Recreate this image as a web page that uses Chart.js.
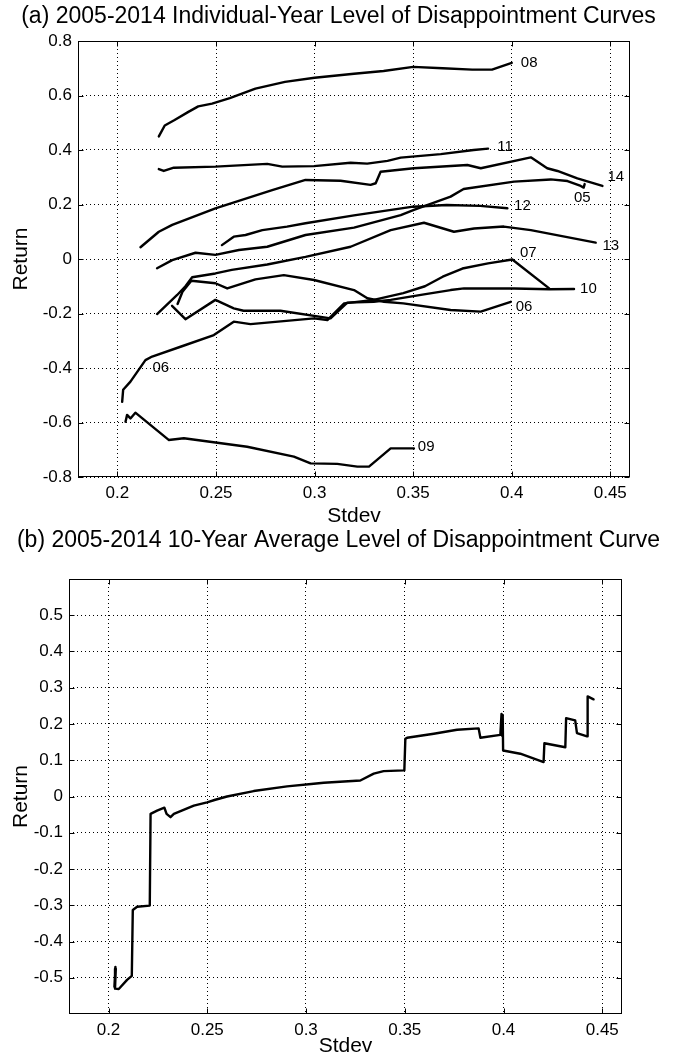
<!DOCTYPE html>
<html>
<head>
<meta charset="utf-8">
<script src="https://cdn.jsdelivr.net/npm/chart.js@4.4.1/dist/chart.umd.min.js"></script>
<style>
  html, body { margin: 0; padding: 0; background: #fff; overflow: hidden; }
  #wrapA { position: absolute; left: 0; top: 0; width: 677px; height: 530px; }
  #wrapB { position: absolute; left: 0; top: 528px; width: 677px; height: 534px; }
</style>
</head>
<body>
<div id="wrapA"><canvas id="chartA" width="677" height="530"></canvas></div>
<div id="wrapB"><canvas id="chartB" width="677" height="534"></canvas></div>
<script>
// tick labels
const stdevTicks = [0.2, 0.25, 0.3, 0.35, 0.4, 0.45];
const returnTicksA = [-0.8, -0.6, -0.4, -0.2, 0, 0.2, 0.4, 0.6, 0.8];
const returnTicksB = [-0.5, -0.4, -0.3, -0.2, -0.1, 0, 0.1, 0.2, 0.3, 0.4, 0.5];

// (a) individual-year curves, stdev / return
const sd08 = [0.221, 0.224, 0.229, 0.236, 0.241, 0.248, 0.257, 0.27, 0.285, 0.3, 0.32, 0.335, 0.35, 0.365, 0.38, 0.39, 0.4];
const ret08 = [0.45, 0.49, 0.51, 0.54, 0.56, 0.57, 0.59, 0.625, 0.65, 0.665, 0.68, 0.69, 0.705, 0.70, 0.695, 0.695, 0.72];

const sd11 = [0.221, 0.2235, 0.2286, 0.2497, 0.276, 0.2836, 0.2997, 0.3183, 0.3267, 0.337, 0.3437, 0.364, 0.3807, 0.388];
const ret11 = [0.330, 0.323, 0.335, 0.339, 0.349, 0.339, 0.341, 0.353, 0.350, 0.360, 0.372, 0.385, 0.40, 0.405];

const sd14 = [0.2117, 0.221, 0.2278, 0.2497, 0.2785, 0.2954, 0.3132, 0.3284, 0.331, 0.3335, 0.3503, 0.3775, 0.3843, 0.4097, 0.418, 0.4232, 0.4333, 0.446];
const ret14 = [0.043, 0.10, 0.125, 0.186, 0.253, 0.29, 0.287, 0.272, 0.278, 0.32, 0.333, 0.345, 0.333, 0.373, 0.333, 0.323, 0.296, 0.268];

const sd05 = [0.2201, 0.2278, 0.2396, 0.2497, 0.2616, 0.276, 0.2954, 0.32, 0.3437, 0.3504, 0.369, 0.3756, 0.4012, 0.4198, 0.4283, 0.435, 0.4365, 0.437];
const ret05 = [-0.034, -0.004, 0.023, 0.015, 0.033, 0.045, 0.088, 0.115, 0.161, 0.18, 0.229, 0.257, 0.284, 0.292, 0.286, 0.268, 0.262, 0.275];

const sd12 = [0.253, 0.259, 0.265, 0.2735, 0.286, 0.2954, 0.32, 0.35, 0.367, 0.384, 0.3978];
const ret12 = [0.051, 0.082, 0.088, 0.106, 0.119, 0.131, 0.16, 0.192, 0.198, 0.195, 0.186];

const sd13 = [0.2201, 0.2303, 0.2345, 0.2379, 0.2497, 0.258, 0.276, 0.2954, 0.3183, 0.3386, 0.3555, 0.3707, 0.3809, 0.396, 0.4097, 0.4426];
const ret13 = [-0.202, -0.132, -0.10, -0.067, -0.053, -0.04, -0.02, 0.008, 0.045, 0.106, 0.133, 0.10, 0.112, 0.119, 0.106, 0.06];

const sd07 = [0.2024, 0.2029, 0.2066, 0.2142, 0.2176, 0.232, 0.2489, 0.259, 0.2675, 0.2997, 0.3065, 0.315, 0.33, 0.345, 0.356, 0.365, 0.375, 0.388, 0.4003, 0.419];
const ret07 = [-0.524, -0.48, -0.45, -0.371, -0.358, -0.322, -0.279, -0.23, -0.239, -0.218, -0.224, -0.163, -0.15, -0.125, -0.10, -0.065, -0.035, -0.016, -0.002, -0.108];

const sd06 = [0.2305, 0.233, 0.2375, 0.2497, 0.2557, 0.27, 0.2844, 0.2997, 0.32, 0.3268, 0.3352, 0.345, 0.369, 0.3843, 0.3995];
const ret06 = [-0.165, -0.12, -0.08, -0.089, -0.108, -0.075, -0.059, -0.077, -0.114, -0.144, -0.157, -0.163, -0.187, -0.193, -0.157];

const sd10 = [0.2277, 0.2345, 0.2497, 0.259, 0.264, 0.2827, 0.3081, 0.3166, 0.33, 0.3386, 0.3555, 0.369, 0.3758, 0.4012, 0.419, 0.4316];
const ret10 = [-0.172, -0.221, -0.15, -0.181, -0.19, -0.19, -0.218, -0.16, -0.157, -0.15, -0.13, -0.114, -0.108, -0.108, -0.111, -0.11];

const sd09 = [0.2041, 0.2049, 0.2066, 0.2091, 0.226, 0.2337, 0.2658, 0.2895, 0.298, 0.3115, 0.3217, 0.3276, 0.3386, 0.3504];
const ret09 = [-0.597, -0.572, -0.585, -0.564, -0.664, -0.658, -0.689, -0.725, -0.75, -0.752, -0.762, -0.762, -0.695, -0.695];

// (b) 10-year average curve
const sdAvg = [0.2035, 0.2030, 0.2037, 0.2033, 0.2052, 0.2094, 0.2118, 0.2123, 0.2145, 0.2209, 0.2213, 0.2246, 0.2283, 0.2294, 0.2314, 0.2331,
  0.2432, 0.2499, 0.2541, 0.26, 0.2735, 0.2904, 0.3039, 0.309, 0.3275, 0.3343, 0.3393, 0.3498, 0.3503, 0.3512, 0.3647, 0.3765, 0.3874,
  0.3883, 0.3984, 0.3990, 0.3993, 0.3996, 0.3998, 0.4085, 0.4203, 0.4207, 0.4313, 0.4317, 0.4363, 0.4372, 0.4423, 0.4426, 0.4456];
const retAvg = [-0.47, -0.525, -0.475, -0.53, -0.531, -0.506, -0.495, -0.313, -0.304, -0.301, -0.048, -0.039, -0.031, -0.048, -0.057, -0.048,
  -0.025, -0.016, -0.009, 0.0, 0.015, 0.028, 0.035, 0.038, 0.044, 0.063, 0.070, 0.072, 0.159, 0.162, 0.173, 0.184, 0.188,
  0.162, 0.170, 0.228, 0.168, 0.225, 0.127, 0.118, 0.095, 0.147, 0.136, 0.216, 0.210, 0.175, 0.166, 0.276, 0.268];

const FONT = "'Liberation Sans', Arial, sans-serif";
const fmt = v => String(Math.round(v * 100) / 100);

// MATLAB-ish look: heading, curve tags, closed box with inward ticks
const decor = {
  id: 'decor',
  afterDraw(chart, args, opts) {
    const { ctx, chartArea: a, scales: { x, y } } = chart;
    ctx.save();
    ctx.fillStyle = '#000';
    ctx.font = opts.titleSize + 'px ' + FONT;
    ctx.textAlign = 'center';
    ctx.textBaseline = 'middle';
    ctx.fillText(opts.title, chart.width / 2, opts.titleY);

    ctx.font = '15px ' + FONT;
    ctx.textAlign = 'left';
    (opts.tags || []).forEach(t => {
      ctx.fillText(t.text, x.getPixelForValue(t.x), y.getPixelForValue(t.y));
    });

    const L = Math.round(a.left) + 0.5, R = Math.round(a.right) - 0.5;
    const T = Math.round(a.top) + 0.5, B = Math.round(a.bottom) - 0.5;
    ctx.strokeStyle = '#000';
    ctx.lineWidth = 1;
    ctx.strokeRect(L, T, R - L, B - T);
    ctx.beginPath();
    x.ticks.forEach(t => {
      const p = Math.round(x.getPixelForValue(t.value)) + 0.5;
      ctx.moveTo(p, B); ctx.lineTo(p, B - 5);
      ctx.moveTo(p, T); ctx.lineTo(p, T + 5);
    });
    y.ticks.forEach(t => {
      const p = Math.round(y.getPixelForValue(t.value)) + 0.5;
      ctx.moveTo(L, p); ctx.lineTo(L + 5, p);
      ctx.moveTo(R, p); ctx.lineTo(R - 5, p);
    });
    ctx.stroke();
    ctx.restore();
  }
};

function panel(id, o) {
  return new Chart(document.getElementById(id), {
    type: 'scatter',
    data: {
      datasets: o.series.map(s => ({
        data: s[0].map((v, i) => ({ x: v, y: s[1][i] })),
        showLine: true,
        borderColor: '#000',
        borderWidth: 2.4,
        borderJoinStyle: 'round',
        borderCapStyle: 'round',
        pointRadius: 0
      }))
    },
    options: {
      responsive: false,
      animation: false,
      events: [],
      layout: { padding: { left: 0, right: o.padRight, top: o.padTop, bottom: 0 } },
      plugins: {
        legend: { display: false },
        tooltip: { enabled: false },
        title: { display: false },
        decor: { title: o.title, titleY: o.titleY, titleSize: 23, tags: o.tags }
      },
      scales: {
        x: {
          type: 'linear', min: 0.18, max: 0.46,
          afterBuildTicks: s => { s.ticks = stdevTicks.map(v => ({ value: v })); },
          afterFit: s => { s.height = o.xHeight; },
          grid: { color: '#000', lineWidth: 1, drawTicks: false },
          border: { display: false, dash: [1, 3] },
          ticks: { color: '#000', font: { family: FONT, size: 17 }, padding: 6, maxRotation: 0, autoSkip: false, callback: fmt },
          title: { display: true, text: 'Stdev', color: '#000', font: { family: FONT, size: 21 }, padding: { top: 0, bottom: o.xTitlePad } }
        },
        y: {
          type: 'linear', min: o.yMin, max: o.yMax,
          afterBuildTicks: s => { s.ticks = o.yTicks.map(v => ({ value: v })); },
          afterFit: s => { s.width = o.yWidth; },
          grid: { color: '#000', lineWidth: 1, drawTicks: false },
          border: { display: false, dash: [1, 3] },
          ticks: { color: '#000', font: { family: FONT, size: 17 }, padding: 6, autoSkip: false, callback: fmt },
          title: { display: true, text: 'Return', color: '#000', font: { family: FONT, size: 21 }, padding: { top: 9, bottom: 0 } }
        }
      }
    },
    plugins: [decor]
  });
}

panel('chartA', {
  title: '(a) 2005-2014 Individual-Year Level of Disappointment Curves',
  titleY: 17, padTop: 41, padRight: 47, yWidth: 78, xHeight: 53, xTitlePad: 1,
  yMin: -0.8, yMax: 0.8, yTicks: returnTicksA,
  series: [[sd08, ret08], [sd11, ret11], [sd14, ret14], [sd05, ret05], [sd12, ret12], [sd13, ret13],
           [sd07, ret07], [sd06, ret06], [sd10, ret10], [sd09, ret09]],
  tags: [
    { text: '08', x: 0.4046, y: 0.719 },
    { text: '11', x: 0.3927, y: 0.412 },
    { text: '14', x: 0.4486, y: 0.302 },
    { text: '05', x: 0.4316, y: 0.223 },
    { text: '12', x: 0.4012, y: 0.194 },
    { text: '13', x: 0.446, y: 0.049 },
    { text: '07', x: 0.4042, y: 0.021 },
    { text: '10', x: 0.4347, y: -0.108 },
    { text: '06', x: 0.402, y: -0.177 },
    { text: '06', x: 0.2178, y: -0.40 },
    { text: '09', x: 0.3524, y: -0.689 }
  ]
});

panel('chartB', {
  title: '(b) 2005-2014 10-Year Average Level of Disappointment Curve',
  titleY: 13, padTop: 51, padRight: 55, yWidth: 69, xHeight: 48, xTitlePad: 3,
  yMin: -0.6, yMax: 0.6, yTicks: returnTicksB,
  series: [[sdAvg, retAvg]],
  tags: []
});
</script>
</body>
</html>
